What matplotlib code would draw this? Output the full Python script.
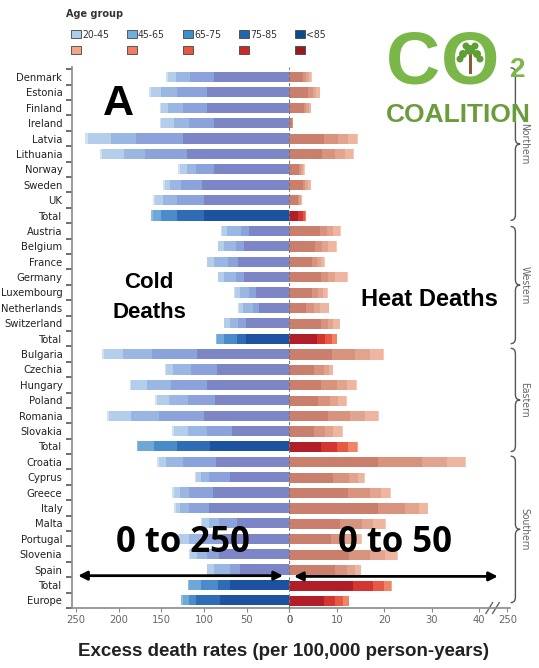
import matplotlib
matplotlib.use("Agg")
import matplotlib.pyplot as plt
from matplotlib.patches import Rectangle, PathPatch, Circle
from matplotlib.path import Path
from matplotlib.transforms import blended_transform_factory

# rows, top to bottom
countries = ["Denmark", "Estonia", "Finland", "Ireland", "Latvia", "Lithuania", "Norway", "Sweden", "UK", "Total",
             "Austria", "Belgium", "France", "Germany", "Luxembourg", "Netherlands", "Switzerland", "Total",
             "Bulgaria", "Czechia", "Hungary", "Poland", "Romania", "Slovakia", "Total",
             "Croatia", "Cyprus", "Greece", "Italy", "Malta", "Portugal", "Slovenia", "Spain", "Total", "Europe"]

regions = ["Northern", "Western", "Eastern", "Southern"]

age_groups = ["20-45", "45-65", "65-75", "75-85", "<85"]

# cold excess death rates (per 100,000), by age group
cold_20_45 = [2, 2, 2, 2, 3, 3, 2, 2, 2, 2, 1, 1, 1, 1, 1, 1, 1, 1, 3, 2, 2, 2, 3, 2, 2, 2, 1, 2, 2, 1, 2, 2, 1, 1, 2]
cold_45_65 = [9, 12, 8, 15, 27, 25, 8, 6, 10, 10, 6, 6, 8, 7, 6, 5, 6, 9, 22, 8, 18, 14, 26, 16, 18, 9, 6, 7, 5, 8, 11, 8, 8, 14, 7]
cold_65_75 = [17, 18, 17, 17, 29, 25, 11, 13, 16, 18, 16, 14, 16, 13, 11, 11, 10, 15, 34, 21, 28, 22, 32, 22, 27, 19, 9, 11, 10, 12, 16, 12, 18, 21, 9]
cold_75_85 = [28, 35, 28, 30, 55, 49, 21, 25, 32, 32, 10, 10, 12, 10, 8, 7, 9, 10, 53, 30, 42, 32, 53, 30, 39, 39, 25, 27, 24, 21, 26, 14, 12, 13, 28]
cold_85_plus = [88, 97, 97, 88, 125, 120, 88, 102, 100, 100, 47, 53, 60, 53, 39, 36, 51, 51, 108, 85, 97, 87, 100, 67, 93, 86, 69, 90, 94, 61, 76, 82, 58, 70, 81]

# heat excess death rates (per 100,000), by age group
heat_20_45 = [0.1, 0.1, 0.1, 0.0, 0.2, 0.2, 0.1, 0.1, 0.0, 0.0, 0.2, 0.2, 0.1, 0.2, 0.1, 0.1, 0.1, 0.1, 0.2, 0.1, 0.2, 0.2, 0.2, 0.2, 0.2, 0.3, 0.1, 0.2, 0.2, 0.2, 0.2, 0.2, 0.1, 0.2, 0.1]
heat_45_65 = [0.5, 0.7, 0.4, 0.05, 1.8, 1.7, 0.3, 0.5, 0.2, 0.3, 1.4, 1.6, 0.7, 2.5, 0.9, 1.8, 1.3, 1.1, 2.8, 0.8, 1.9, 1.6, 2.8, 1.7, 1.8, 3.9, 1.4, 1.9, 1.9, 2.5, 1.5, 2.5, 1.2, 1.5, 1.1]
heat_65_75 = [0.5, 0.8, 0.5, 0.1, 2.1, 2.1, 0.4, 0.6, 0.3, 0.4, 1.4, 1.3, 0.9, 1.4, 1.0, 1.4, 1.2, 1.4, 3.2, 1.2, 2.1, 1.7, 3.1, 1.8, 2.4, 5.2, 1.8, 2.4, 2.8, 2.5, 2.0, 3.2, 1.7, 2.3, 1.8]
heat_75_85 = [0.8, 1.0, 0.6, 0.1, 2.9, 2.7, 0.4, 0.6, 0.3, 1.0, 1.4, 1.4, 1.1, 1.5, 1.4, 1.5, 1.4, 1.7, 4.9, 2.1, 3.3, 2.5, 4.7, 2.4, 3.3, 9.3, 3.5, 4.6, 5.8, 4.5, 2.7, 4.5, 2.5, 4.2, 2.2]
heat_85_plus = [2.8, 3.9, 3.0, 0.6, 7.4, 6.9, 2.0, 2.8, 1.8, 1.9, 6.5, 5.5, 4.7, 6.7, 4.7, 3.6, 6.7, 5.8, 8.9, 5.1, 6.7, 6.1, 8.1, 5.1, 6.7, 18.6, 9.1, 12.4, 18.6, 10.7, 8.8, 12.5, 9.6, 13.5, 7.4]

cold_ticks = [250, 200, 150, 100, 50, 0]
heat_ticks = [0, 10, 20, 30, 40]

# colours, order 20-45 ... <85
cold_country_col = ["#cfe1f3", "#b3cdea", "#9ab7e3", "#8ba2da", "#7c86c6"]
cold_total_col = ["#8dbde3", "#6ea7d8", "#4a8cca", "#2f6cb5", "#1d52a0"]
heat_country_col = ["#f5c9b7", "#eeb5a0", "#e3a48f", "#d8937e", "#c97f6b"]
heat_total_col = ["#f6a88c", "#f08466", "#e65a45", "#d33530", "#b01f27"]
legend_blue = ["#a9cfea", "#6db0de", "#3f8fcb", "#2166ad", "#0c4a90"]
legend_red = ["#f5a48c", "#f27c63", "#e8563f", "#cc2a2a", "#9a1b1e"]

W, H = 539, 668
fig = plt.figure(figsize=(W / 100, H / 100), dpi=100)

ax_top, ax_bot = 67, 608
cold_left, zero_x, heat_right = 72, 289.3, 510
ax_cold = fig.add_axes([cold_left / W, (H - ax_bot) / H, (zero_x - cold_left) / W, (ax_bot - ax_top) / H])
ax_heat = fig.add_axes([zero_x / W, (H - ax_bot) / H, (heat_right - zero_x) / W, (ax_bot - ax_top) / H])

n = len(countries)
rows = list(range(n))
is_agg = [c in ("Total", "Europe") for c in countries]

cold = [cold_20_45, cold_45_65, cold_65_75, cold_75_85, cold_85_plus]
heat = [heat_20_45, heat_45_65, heat_65_75, heat_75_85, heat_85_plus]

# stack from the centre outwards: <85 first
for ax, data, c_cty, c_tot in [(ax_cold, cold, cold_country_col, cold_total_col),
                               (ax_heat, heat, heat_country_col, heat_total_col)]:
    left = [0.0] * n
    for k in range(4, -1, -1):
        cols = [c_tot[k] if a else c_cty[k] for a in is_agg]
        ax.barh(rows, data[k], left=left, height=0.66, color=cols, linewidth=0)
        left = [l + v for l, v in zip(left, data[k])]

ylim = (34.45, -0.65)
ax_cold.set_xlim(254.7, 0)
ax_heat.set_xlim(0, (heat_right - zero_x) / 4.75)
for ax in (ax_cold, ax_heat):
    ax.set_ylim(*ylim)
    ax.spines["top"].set_visible(False)
    ax.spines["right"].set_visible(False)
    ax.spines["bottom"].set_color("#8a8a8a")
    ax.spines["bottom"].set_linewidth(1.2)
    ax.tick_params(axis="x", colors="#8a8a8a", labelcolor="#666666", labelsize=8, length=3, pad=2)
ax_heat.spines["left"].set_visible(False)
ax_heat.set_yticks([])
ax_cold.spines["left"].set_color("#8a8a8a")
ax_cold.spines["left"].set_linewidth(1.2)

tick_font = dict(family="DejaVu Sans", stretch="condensed")
ax_cold.set_xticks(cold_ticks)
ax_cold.set_xticklabels([str(t) for t in cold_ticks], fontdict=tick_font)
ax_heat.set_xticks(heat_ticks + [45.9])
ax_heat.set_xticklabels([str(t) for t in heat_ticks] + ["250"], fontdict=tick_font)

ax_cold.set_yticks(rows)
ax_cold.set_yticklabels(countries, fontsize=8, color="#222222", fontdict=tick_font)
ax_cold.tick_params(axis="y", which="major", length=0, pad=7)
ax_cold.set_yticks([r - 0.5 for r in range(n + 1)], minor=True)
ax_cold.tick_params(axis="y", which="minor", length=4, width=1.2, color="#555555")

# dashed zero line
ax_heat.axvline(0, color="#777777", lw=0.8, ls=(0, (3, 2)), zorder=3)

# axis break marks
tb = blended_transform_factory(ax_heat.transData, ax_heat.transAxes)
for x0 in (41.4, 42.8):
    ax_heat.plot([x0, x0 + 1.4], [-0.010, 0.010], transform=tb, color="#666666", lw=1, clip_on=False)

# region braces
tr = blended_transform_factory(ax_heat.transData, ax_heat.transData)
brace_top = [-0.6, 9.7, 17.6, 24.6]
brace_bot = [9.3, 17.3, 24.3, 34.1]
bx, bw, bd = 47.6, 1.0, 0.35
for name, y0, y1 in zip(regions, brace_top, brace_bot):
    ym = (y0 + y1) / 2
    verts = [(bx - bw, y0), (bx, y0), (bx, y0 + bd), (bx, ym - bd), (bx, ym), (bx + bw, ym),
             (bx, ym), (bx, ym + bd), (bx, y1 - bd), (bx, y1), (bx - bw, y1)]
    codes = [Path.MOVETO, Path.CURVE3, Path.CURVE3, Path.LINETO, Path.CURVE3, Path.CURVE3,
             Path.CURVE3, Path.CURVE3, Path.LINETO, Path.CURVE3, Path.CURVE3]
    ax_heat.add_patch(PathPatch(Path(verts, codes), fill=False, ec="#555555", lw=1, clip_on=False, transform=tr))
    ax_heat.text(bx + 1.9, ym, name, rotation=-90, ha="center", va="center", fontsize=7.5,
                 color="#666666", fontdict=tick_font, clip_on=False)

# double-headed arrows
arrow = dict(arrowstyle="<|-|>", color="black", lw=2, mutation_scale=13, shrinkA=0, shrinkB=0)
ax_cold.annotate("", xy=(247.5, 32.4), xytext=(7.4, 32.4), arrowprops=arrow, zorder=6)
ax_heat.annotate("", xy=(1.0, 32.4), xytext=(43.9, 32.4), arrowprops=arrow, zorder=6)

# overlay in pixel coordinates for annotations, legend and logo
ov = fig.add_axes([0, 0, 1, 1])
ov.set_xlim(0, W)
ov.set_ylim(H, 0)
ov.axis("off")
ov.patch.set_visible(False)
ov.set_zorder(10)

big = dict(family="Liberation Sans", weight="bold", color="black", ha="center", va="center")
ov.text(118, 104, "A", fontsize=31, **big)
ov.text(149, 282, "Cold", fontsize=16, **big)
ov.text(149, 312, "Deaths", fontsize=16, **big)
ov.text(429, 300, "Heat Deaths", fontsize=17, **big)
ov.text(183, 543, "0 to 250", fontsize=25, family="Open Sans", weight="bold", ha="center", va="center", color="black")
ov.text(395, 543, "0 to 50", fontsize=25, family="Open Sans", weight="bold", ha="center", va="center", color="black")

ov.text(283, 652, "Excess death rates (per 100,000 person-years)", fontsize=13.5, family="Liberation Sans",
        weight="bold", color="#222222", ha="center", va="center")

# legend
ov.text(66, 14, "Age group", fontsize=7, weight="bold", color="#333333", ha="left", va="center")
leg_x = [71, 127, 183, 239, 295]
for x, lab, cb, cr in zip(leg_x, age_groups, legend_blue, legend_red):
    ov.add_patch(Rectangle((x, 30), 10, 8, fc=cb, ec="#444444", lw=0.6))
    ov.add_patch(Rectangle((x, 46), 10, 8, fc=cr, ec="#444444", lw=0.6))
    ov.text(x + 11, 34.5, lab, fontsize=7.5, color="#333333", ha="left", va="center", fontdict=tick_font)

# logo
green = "#7ab648"
ov.text(413, 84, "C", fontsize=54, **dict(big, color=green, va="baseline"))
ov.text(470, 84, "O", fontsize=54, **dict(big, color=green, va="baseline"))
ov.text(518, 70, "2", fontsize=20, **dict(big, color=green))
ov.text(458, 115, "COALITION", fontsize=19, **dict(big, color="#6a9c3c"))
ov.add_patch(Rectangle((468.5, 52), 3, 22, fc="#8a5a3a", ec="none"))
for (cx, cy, r) in [(470, 50, 5), (463, 54, 4), (477, 54, 4), (460, 59, 3.5), (480, 59, 3.5), (466, 46, 3.5), (475, 46, 3.5)]:
    ov.add_patch(Circle((cx, cy), r, fc="#5f9e35", ec="none"))

fig.savefig("out.png", dpi=100)
